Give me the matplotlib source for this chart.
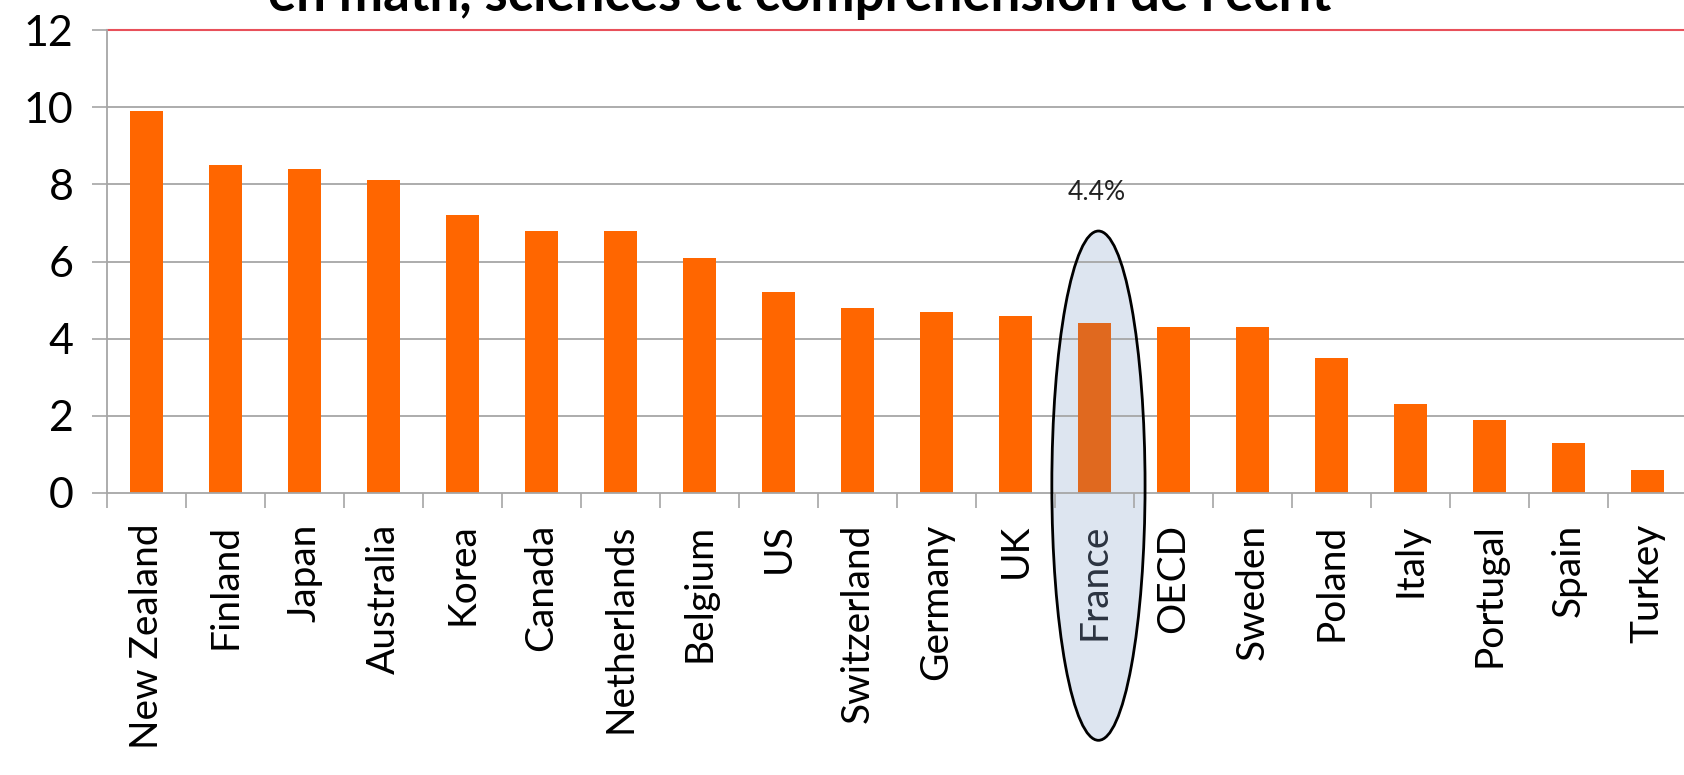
import matplotlib
matplotlib.use("Agg")
import matplotlib.pyplot as plt
from matplotlib.patches import Ellipse

countries = ["New Zealand", "Finland", "Japan", "Australia", "Korea", "Canada",
             "Netherlands", "Belgium", "US", "Switzerland", "Germany", "UK",
             "France", "OECD", "Sweden", "Poland", "Italy", "Portugal", "Spain", "Turkey"]
values = [9.9, 8.5, 8.4, 8.1, 7.2, 6.8, 6.8, 6.1, 5.2, 4.8, 4.7, 4.6,
          4.4, 4.3, 4.3, 3.5, 2.3, 1.9, 1.3, 0.6]
yticks = [0, 2, 4, 6, 8, 10, 12]
highlight = "France"
highlight_label = "4.4%"
title = "en math, sciences et compréhension de l'écrit"

plt.rcParams['font.family'] = ['Lato', 'DejaVu Sans']

W, H = 1684, 775
fig = plt.figure(figsize=(W / 100, H / 100), dpi=100)
ax = fig.add_axes([107 / W, 1 - 493 / H, 1580 / W, (493 - 30) / H])

orange = "#ff6600"
colors = ["#e0691f" if c == highlight else orange for c in countries]
x = list(range(len(countries)))
ax.bar(x, values, width=0.41, color=colors, zorder=2)

ax.set_xlim(-0.5, len(countries) - 0.5)
ax.set_ylim(0, 12)
ax.set_yticks(yticks)
ax.set_yticklabels([str(t) for t in yticks], fontsize=31)
for t in yticks[1:-1]:
    ax.axhline(t, color="#a6a6a6", lw=1.3, zorder=1)
ax.axhline(12, color="#e8505a", lw=1.5, zorder=1, clip_on=False)

ax.set_xticks([i + 0.5 for i in range(-1, len(countries))], minor=False)
ax.set_xticklabels([])
ax.set_xticks(x, minor=True)
ax.set_xticklabels(countries, minor=True, rotation=90, fontsize=28)
ax.tick_params(axis='x', which='minor', length=0, pad=22)
ax.tick_params(axis='x', which='major', length=11, width=1.2, color="#a6a6a6")
ax.tick_params(axis='y', length=11, width=1.2, color="#a6a6a6", pad=13)

for s in ["top", "right"]:
    ax.spines[s].set_visible(False)
for s in ["left", "bottom"]:
    ax.spines[s].set_color("#a6a6a6")
    ax.spines[s].set_linewidth(1.3)

hi = countries.index(highlight)
for lbl in ax.get_xticklabels(minor=True):
    if lbl.get_text() == highlight:
        lbl.set_color("#2b3340")

ell_fill = Ellipse((hi + 0.05, 0.19), 1.18, 13.2, facecolor="#dde5f0",
                   edgecolor="none", zorder=0.5, clip_on=False)
ax.add_patch(ell_fill)
ell_edge = Ellipse((hi + 0.05, 0.19), 1.18, 13.2, facecolor="none",
                   edgecolor="black", lw=2, zorder=5, clip_on=False)
ax.add_patch(ell_edge)

ax.text(hi + 0.03, 7.8, highlight_label, ha="center", va="center", fontsize=19,
        color="#222222")

fig.text(800 / W, 1 - 11 / H, title, ha="center", va="baseline",
         fontsize=38, fontweight="bold", color="black")

fig.savefig("out.png", dpi=100)
